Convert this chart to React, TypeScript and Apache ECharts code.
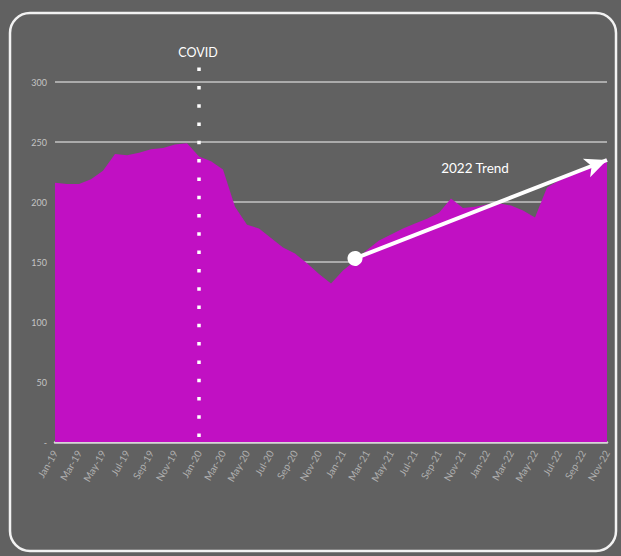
import React, { useEffect, useRef } from "react";
import * as echarts from "echarts";

const months: string[] = [
  "Jan-19","Feb-19","Mar-19","Apr-19","May-19","Jun-19","Jul-19","Aug-19","Sep-19","Oct-19","Nov-19","Dec-19",
  "Jan-20","Feb-20","Mar-20","Apr-20","May-20","Jun-20","Jul-20","Aug-20","Sep-20","Oct-20","Nov-20","Dec-20",
  "Jan-21","Feb-21","Mar-21","Apr-21","May-21","Jun-21","Jul-21","Aug-21","Sep-21","Oct-21","Nov-21","Dec-21",
  "Jan-22","Feb-22","Mar-22","Apr-22","May-22","Jun-22","Jul-22","Aug-22","Sep-22","Oct-22","Nov-22",
];

const values: number[] = [
  216, 215, 215, 219, 226, 240, 239, 241, 244, 245, 248, 249,
  238, 234, 227, 196, 181, 178, 170, 162, 157, 149, 140, 132,
  143, 151, 160, 168, 173, 178, 182, 186, 191, 203, 195, 196,
  198, 199, 197, 193, 187, 212, 218, 222, 226, 230, 236,
];

const yTicks: number[] = [0, 50, 100, 150, 200, 250, 300];

const covidMonth = "Jan-20";
const trendStart: [string, number] = ["Feb-21", 153];
const trendEnd: [string, number] = ["Nov-22", 235];
const trendLabelAt: [string, number] = ["Dec-21", 228];
const covidLabelAt: [string, number] = ["Jan-20", 325];
const covidLineTop = 312;

const BG = "#616161";
const AREA = "#c110c3";

export default function App() {
  const ref = useRef<HTMLDivElement>(null);

  useEffect(() => {
    if (!ref.current) return;
    const chart = echarts.init(ref.current, undefined, { renderer: "svg" });
    chart.setOption({
      animation: false,
      backgroundColor: BG,
      grid: { left: 55, right: 14, top: 82, bottom: 114 },
      xAxis: {
        type: "category",
        data: months,
        boundaryGap: false,
        axisLine: { show: true, lineStyle: { color: "#d6d6d6", width: 2.5 } },
        axisTick: { show: false },
        axisLabel: {
          interval: 1,
          rotate: 60,
          color: "#b0b0b0",
          fontSize: 10,
          fontFamily: "Lato",
          margin: 9,
        },
        splitLine: { show: false },
      },
      yAxis: {
        type: "value",
        min: yTicks[0],
        max: yTicks[yTicks.length - 1],
        interval: 50,
        axisLine: { show: false },
        axisTick: { show: false },
        axisLabel: {
          color: "#c4c4c4",
          fontSize: 9,
          fontFamily: "Lato",
          margin: 8,
          formatter: (v: number) => (v === 0 ? "-" : String(v)),
        },
        splitLine: { show: true, lineStyle: { color: "#c4c4c4", width: 1.5 } },
      },
      series: [
        {
          type: "line",
          data: values,
          symbol: "none",
          lineStyle: { width: 0, color: AREA },
          areaStyle: { color: AREA, opacity: 1 },
          silent: true,
          z: 2,
          markLine: {
            silent: true,
            animation: false,
            symbol: ["circle", "arrow"],
            symbolSize: [15, 22],
            label: { show: false },
            lineStyle: { color: "#ffffff", width: 4, type: "solid" },
            emphasis: { disabled: true },
            data: [[{ coord: trendStart }, { coord: trendEnd }]],
          },
        },
      ],
    });

    const px = (p: [string, number]) =>
      chart.convertToPixel({ xAxisIndex: 0, yAxisIndex: 0 }, p) as number[];
    const covidTop = px([covidMonth, covidLineTop]);
    const covidBottom = px([covidMonth, 0]);
    const covidLbl = px(covidLabelAt);
    const trendLbl = px(trendLabelAt);

    chart.setOption({
      graphic: [
        {
          type: "rect",
          shape: { x: 10, y: 13, width: 606, height: 538, r: 20 },
          style: { fill: "none", stroke: "#f2f2f2", lineWidth: 2.5 },
          silent: true,
          z: 0,
        },
        {
          type: "line",
          shape: { x1: covidTop[0], y1: covidTop[1], x2: covidBottom[0], y2: covidBottom[1] - 2 },
          style: { stroke: "#ffffff", lineWidth: 3.5, lineDash: [3.5, 14.8] },
          silent: true,
          z: 100,
        },
        {
          type: "text",
          x: covidLbl[0] - 1,
          y: covidLbl[1],
          style: {
            text: "COVID",
            fill: "#ffffff",
            fontSize: 12.5,
            fontFamily: "Lato",
            align: "center",
            verticalAlign: "middle",
          },
          silent: true,
          z: 100,
        },
        {
          type: "text",
          x: trendLbl[0],
          y: trendLbl[1],
          style: {
            text: "2022 Trend",
            fill: "#ffffff",
            fontSize: 13.5,
            fontFamily: "Lato",
            align: "center",
            verticalAlign: "middle",
          },
          silent: true,
          z: 100,
        },
      ],
    });

    return () => chart.dispose();
  }, []);

  return (
    <div
      ref={ref}
      style={{ position: "fixed", left: 0, top: 0, width: 621, height: 556 }}
    />
  );
}
